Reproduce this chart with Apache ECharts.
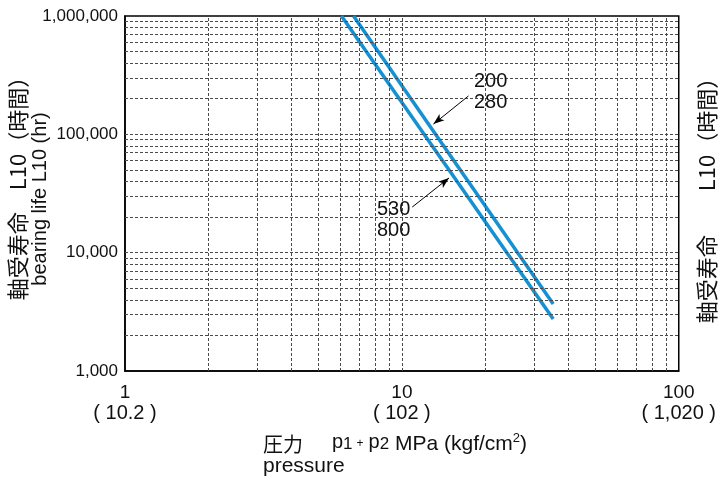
<!DOCTYPE html>
<html><head><meta charset="utf-8">
<script src="https://cdn.jsdelivr.net/npm/echarts@6/dist/echarts.min.js"></script>
<style>html,body{margin:0;padding:0;background:#fff}#c{width:719px;height:479px}</style>
</head><body><div id="c"></div>
<script>
// ---- data ----
const xTicks = [1, 10, 100];
const xTickLabels = ['1', '10', '100'];
const xTickSubLabels = ['( 10.2 )', '( 102 )', '( 1,020 )'];
const yTicks = [1000, 10000, 100000, 1000000];
const yTickLabels = ['1,000', '10,000', '100,000', '1,000,000'];
const xGridValues = [2, 3, 4, 5, 6, 7, 8, 9, 10, 20, 30, 40, 50, 60, 70, 80, 90];
const yGridValues = [2000, 3000, 4000, 5000, 6000, 7000, 8000, 9000,
  10000, 20000, 30000, 40000, 50000, 60000, 70000, 80000, 90000,
  100000, 200000, 300000, 400000, 500000, 600000, 700000, 800000, 900000];
const line200Pressure = [6.69, 35.2];
const line200Life = [1000000, 3680];
const line530Pressure = [6.05, 35.2];
const line530Life = [1000000, 2750];
const arrow200 = [[17.4, 211000], [13.0, 122000]];
const arrow530 = [[10.9, 24300], [14.8, 42800]];
const label200 = ['200', '280'];
const label530 = ['530', '800'];

const FONT = '"Liberation Sans", Arial, Helvetica, sans-serif';
const CJK = '"Noto Sans CJK JP", "Liberation Sans", sans-serif';
const BLUE = '#1591d3';
const GRIDC = '#4a4a4a';

function idxOf(arr, v) {
  for (let i = 0; i < arr.length; i++) {
    if (Math.abs(Math.log10(v) - Math.log10(arr[i])) < 1e-6) return i;
  }
  return -1;
}
function zip(a, b) { return a.map((v, i) => [v, b[i]]); }

const chart = echarts.init(document.getElementById('c'), null, {renderer: 'canvas'});
const option = {
  animation: false,
  backgroundColor: '#fff',
  grid: {left: 125, right: 39, top: 16, bottom: 108, show: true, borderColor: '#000', borderWidth: 1.5, backgroundColor: 'transparent'},
  xAxis: {
    type: 'log', logBase: 10, min: 1, max: 100,
    axisLine: {show: true, lineStyle: {color: '#000', width: 1.5}},
    axisTick: {show: false},
    splitLine: {show: false},
    axisLabel: {
      margin: 11,
      fontFamily: FONT,
      color: '#111',
      formatter: function (v) {
        const i = idxOf(xTicks, v);
        if (i < 0) return '';
        return '{a|' + xTickLabels[i] + '}\n{b|' + xTickSubLabels[i] + '}';
      },
      rich: {
        a: {fontSize: 19, fontFamily: FONT, color: '#111', lineHeight: 21},
        b: {fontSize: 20, fontFamily: FONT, color: '#111', lineHeight: 21}
      }
    }
  },
  yAxis: {
    type: 'log', logBase: 10, min: 1000, max: 1000000,
    axisLine: {show: true, lineStyle: {color: '#000', width: 1.5}},
    axisTick: {show: false},
    splitLine: {show: false},
    axisLabel: {
      margin: 7, fontSize: 17, fontFamily: FONT, color: '#111',
      formatter: function (v) {
        const i = idxOf(yTicks, v);
        return i < 0 ? '' : yTickLabels[i];
      }
    }
  },
  series: [
    {
      type: 'line', data: [], z: 1, silent: true,
      markLine: {
        silent: true, symbol: ['none', 'none'], animation: false,
        label: {show: false},
        lineStyle: {color: GRIDC, width: 1, type: [3, 2]},
        emphasis: {disabled: true},
        data: xGridValues.map(v => ({xAxis: v})).concat(yGridValues.map(v => ({yAxis: v})))
      }
    },
    {
      name: '200/280', type: 'line', z: 3, symbol: 'none', silent: true,
      data: zip(line200Pressure, line200Life),
      lineStyle: {color: BLUE, width: 3.5}
    },
    {
      name: '530/800', type: 'line', z: 3, symbol: 'none', silent: true,
      data: zip(line530Pressure, line530Life),
      lineStyle: {color: BLUE, width: 3.5}
    },
    {
      type: 'line', data: [], z: 5, silent: true,
      markLine: {
        silent: true, symbol: ['none', 'arrow'], symbolSize: [6, 11], animation: false,
        label: {show: false},
        lineStyle: {color: '#000', width: 1, type: 'solid'},
        itemStyle: {color: '#000'},
        emphasis: {disabled: true},
        data: [
          [{coord: arrow200[0]}, {coord: arrow200[1]}],
          [{coord: arrow530[0]}, {coord: arrow530[1]}]
        ]
      }
    }
  ],
  graphic: [
    {type: 'text', left: 474, top: 71, z: 10, style: {text: label200.join('\n'), font: '20px ' + FONT, fill: '#111', lineHeight: 21}},
    {type: 'text', left: 377, top: 199, z: 10, style: {text: label530.join('\n'), font: '20px ' + FONT, fill: '#111', lineHeight: 21}},
    {type: 'text', x: 18, y: 183, rotation: Math.PI / 2, z: 10,
      style: {text: '軸受寿命　L10（時間）', font: '22px ' + CJK, fill: '#111', align: 'center', verticalAlign: 'middle'}},
    {type: 'text', x: 40, y: 199, rotation: Math.PI / 2, z: 10,
      style: {text: 'bearing life L10 (hr)', font: '20px ' + FONT, fill: '#111', align: 'center', verticalAlign: 'middle'}},
    {type: 'text', x: 707, y: 195, rotation: Math.PI / 2, z: 10,
      style: {text: '軸受寿命　　L10（時間）', font: '22px ' + CJK, fill: '#111', align: 'center', verticalAlign: 'middle'}},
    {type: 'text', left: 263, top: 432, z: 10,
      style: {
        text: '{c|圧力}{gap| }{p|p}{s|1}{pl|+}{p|p}{s|2}{n| MPa (kgf/cm}{sup|2}{n|)}',
        rich: {
          c: {font: '20px ' + CJK, fill: '#111', lineHeight: 24},
          gap: {font: '20px ' + FONT, width: 29, lineHeight: 24},
          n: {font: '21px ' + FONT, fill: '#111', lineHeight: 24},
          p: {font: '20px ' + FONT, fill: '#111', lineHeight: 17, verticalAlign: 'top'},
          s: {font: '17px ' + FONT, fill: '#111', lineHeight: 24},
          pl: {font: '12px ' + FONT, fill: '#111', lineHeight: 24, padding: [0, 5, 0, 4]},
          sup: {font: '13px ' + FONT, fill: '#111', lineHeight: 16, verticalAlign: 'top'}
        }
      }},
    {type: 'text', left: 263, top: 456, z: 10, style: {text: 'pressure', font: '21px ' + FONT, fill: '#111'}}
  ]
};
chart.setOption(option);
</script>
</body></html>
